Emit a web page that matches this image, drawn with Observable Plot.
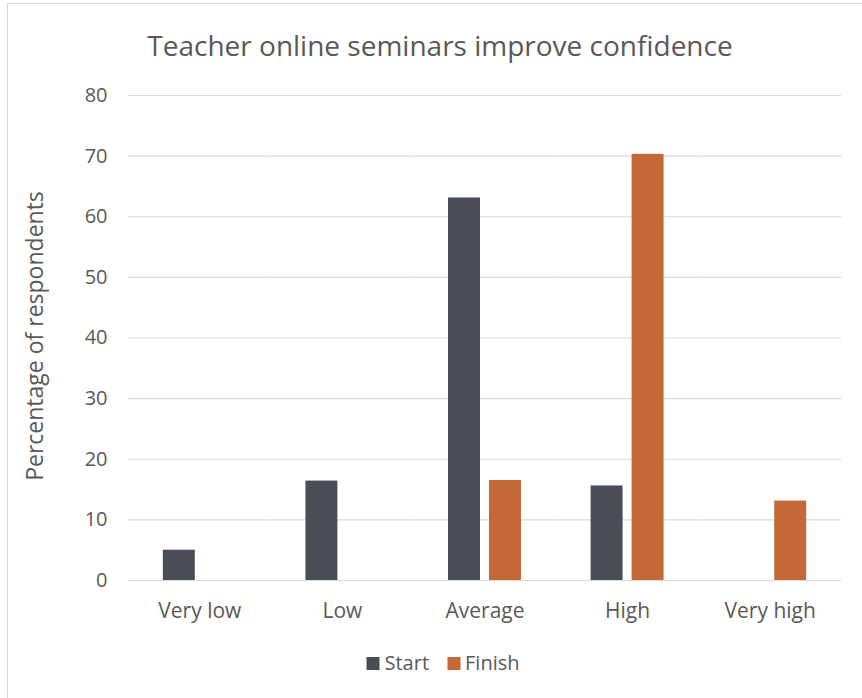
<!DOCTYPE html>
<html>
<head>
<meta charset="utf-8">
<script src="https://cdn.jsdelivr.net/npm/d3@7"></script>
<script src="https://cdn.jsdelivr.net/npm/@observablehq/plot@0.6"></script>
<style>
  html, body { margin: 0; padding: 0; background: #fff; overflow: hidden; width: 862px; height: 698px; }
  body { position: relative; font-family: "Open Sans", sans-serif; color: #595959; }
  #frame { position: absolute; left: 7px; top: 3px; width: 1000px; height: 1000px; border: 1px solid #d9d9d9; box-sizing: border-box; }
  #chart { position: absolute; left: 0; top: 0; }
  #title { position: absolute; left: 440px; top: 31px; transform: translateX(-50%); font-size: 28px; white-space: nowrap; line-height: 1; }
  #ylabel { position: absolute; left: 34px; top: 336px; transform: translate(-50%, -50%) rotate(-90deg); font-size: 23px; white-space: nowrap; line-height: 1; }
  #legend { position: absolute; left: 443px; top: 653px; transform: translateX(-50%); display: flex; align-items: center; font-size: 20px; white-space: nowrap; line-height: 1; }
  .sw { display: inline-block; width: 13px; height: 13px; margin-right: 5px; }
  .item { display: flex; align-items: center; margin: 0 9px; }
</style>
</head>
<body>
<div id="frame"></div>
<div id="chart"></div>
<div id="title">Teacher online seminars improve confidence</div>
<div id="ylabel">Percentage of respondents</div>
<div id="legend"></div>
<script>
const categories = ["Very low", "Low", "Average", "High", "Very high"];
const seriesNames = ["Start", "Finish"];
const startValues = [5, 16.4, 63.1, 15.6, 0];
const finishValues = [0, 0, 16.5, 70.3, 13.1];
const seriesColors = ["#494d56", "#c56837"];
const yTicks = [0, 10, 20, 30, 40, 50, 60, 70, 80];

const data = [];
categories.forEach((c, i) => {
  data.push({category: c, series: "Start", value: startValues[i]});
  data.push({category: c, series: "Finish", value: finishValues[i]});
});

const chart = Plot.plot({
  width: 862,
  height: 698,
  marginLeft: 128,
  marginRight: 21,
  marginTop: 95,
  marginBottom: 118,
  style: {fontFamily: "Open Sans", color: "#595959", background: "transparent"},
  fx: {domain: categories, padding: 0, axis: null, round: false},
  x: {domain: seriesNames, paddingInner: 0.22, paddingOuter: 0.85, axis: null, round: false},
  y: {domain: [0, 80], axis: null},
  color: {domain: seriesNames, range: seriesColors},
  marks: [
    Plot.ruleY(yTicks, {stroke: "#d9d9d9", strokeWidth: 1.2}),
    Plot.barY(data, {fx: "category", x: "series", y: "value", fill: "series"}),
    Plot.axisY({ticks: yTicks, tickSize: 0, tickPadding: 21, fontSize: 20, label: null, color: "#595959"}),
    Plot.axisFx({anchor: "bottom", tickSize: 0, tickPadding: 23, fontSize: 21, label: null, color: "#595959"})
  ]
});
document.getElementById("chart").appendChild(chart);

const legend = document.getElementById("legend");
seriesNames.forEach((s, i) => {
  const item = document.createElement("span");
  item.className = "item";
  const sw = document.createElement("span");
  sw.className = "sw";
  sw.style.background = seriesColors[i];
  item.appendChild(sw);
  item.appendChild(document.createTextNode(s));
  legend.appendChild(item);
});
</script>
</body>
</html>
